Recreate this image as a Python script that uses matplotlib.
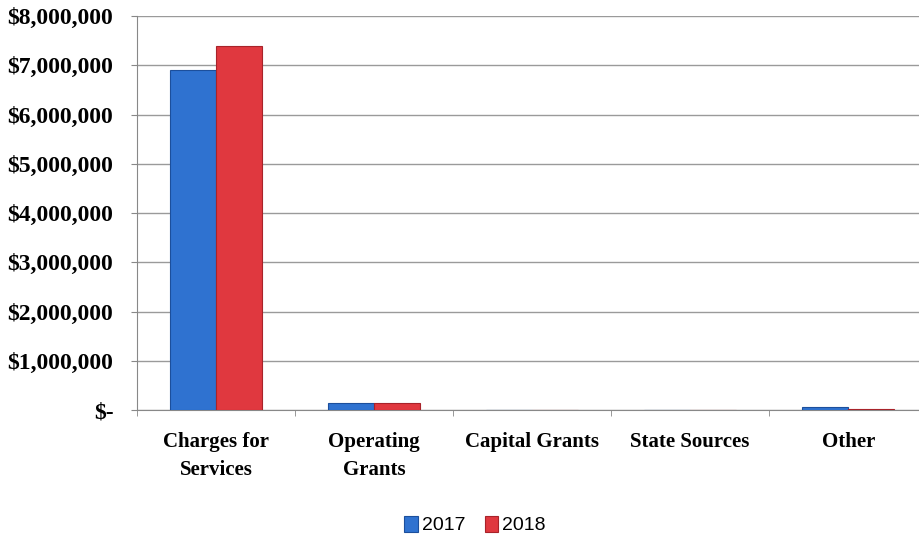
import numpy as np
import matplotlib
matplotlib.use("Agg")
import matplotlib.pyplot as plt
from matplotlib.ticker import FuncFormatter, FixedLocator

categories = ["Charges for\nServices", "Operating\nGrants", "Capital Grants", "State Sources", "Other"]
years = ["2017", "2018"]
values_2017 = [6900000, 150000, 8000, 12000, 55000]
values_2018 = [7400000, 150000, 8000, 10000, 15000]

blue = "#2f72d0"
red = "#e0383f"

fig = plt.figure(figsize=(9.19, 5.39), dpi=100)
ax = fig.add_axes([0.149, 0.239, 0.86, 0.731])

x = np.arange(len(categories))
w = 0.29
ax.bar(x - w / 2, values_2017, w, color=blue, edgecolor="#1c4f9c", linewidth=0.8, label=years[0], zorder=3)
ax.bar(x + w / 2, values_2018, w, color=red, edgecolor="#a8232a", linewidth=0.8, label=years[1], zorder=3)

ax.set_xlim(-0.5, len(categories) - 0.5)
ax.set_ylim(0, 8000000)
ax.set_yticks(np.arange(0, 8000001, 1000000))

def money(v, pos):
    if v == 0:
        return "$-"
    return "${:,.0f}".format(v)

ax.yaxis.set_major_formatter(FuncFormatter(money))
ax.yaxis.grid(True, color="#9a9a9a", linewidth=1.0, zorder=0)

ax.set_xticks(x)
ax.set_xticklabels(categories, fontfamily="Liberation Serif", fontweight="bold", fontsize=15, linespacing=1.5)
ax.xaxis.set_minor_locator(FixedLocator(np.arange(-0.5, len(categories), 1)))
ax.tick_params(axis="x", which="major", length=0, pad=16)
ax.tick_params(axis="x", which="minor", length=4, color="#888888", direction="out")
ax.tick_params(axis="y", length=4, color="#888888", pad=13)
for lab in ax.get_yticklabels():
    lab.set_fontfamily("Liberation Serif")
    lab.set_fontweight("bold")
    lab.set_fontsize(17)

for side in ["top", "right"]:
    ax.spines[side].set_visible(False)
ax.spines["left"].set_color("#888888")
ax.spines["bottom"].set_color("#888888")

leg = fig.legend(loc="center", bbox_to_anchor=(0.517, 0.026), ncol=2, frameon=False,
                 prop={"family": "Liberation Sans", "size": 14},
                 handlelength=0.7, handleheight=0.9, handletextpad=0.2, columnspacing=1.0)

fig.savefig("out.png", dpi=100)
